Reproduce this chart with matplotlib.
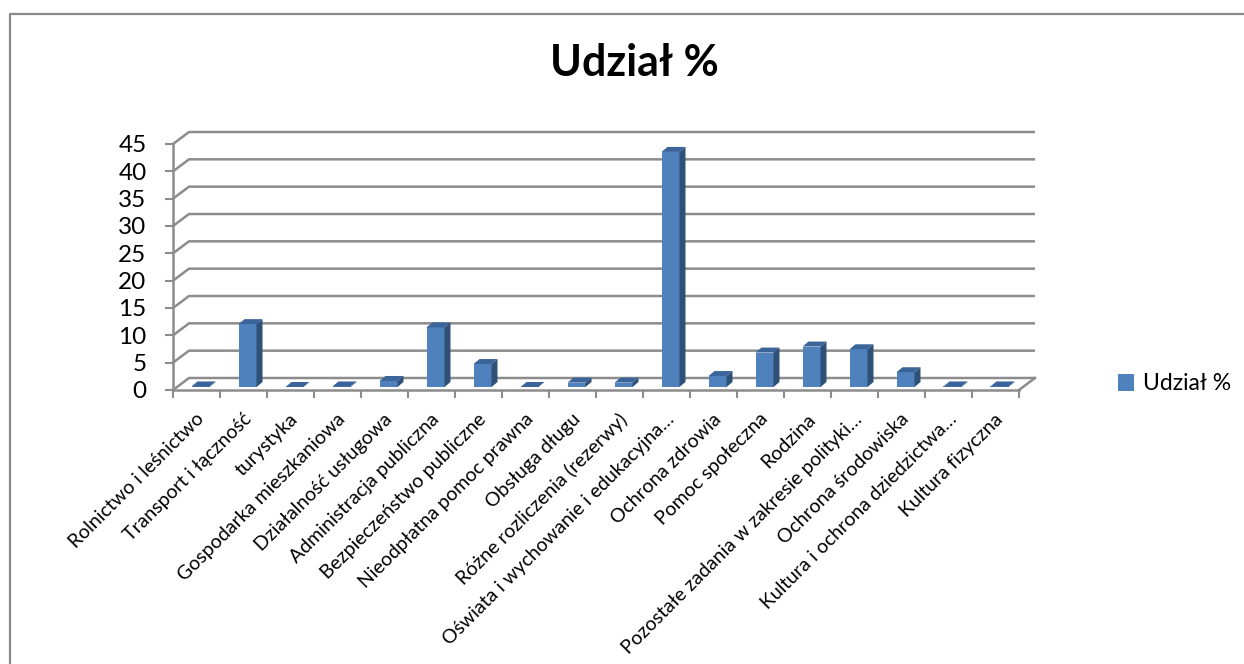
import matplotlib
matplotlib.use("Agg")
import matplotlib.pyplot as plt
from matplotlib.patches import Polygon
from matplotlib.lines import Line2D
from matplotlib.transforms import ScaledTranslation
import numpy as np

categories = [
    "Rolnictwo i leśnictwo", "Transport i łączność", "turystyka",
    "Gospodarka mieszkaniowa", "Działalność usługowa", "Administracja publiczna",
    "Bezpieczeństwo publiczne", "Nieodpłatna pomoc prawna", "Obsługa długu",
    "Różne rozliczenia (rezerwy)", "Oświata i wychowanie i edukacyjna…",
    "Ochrona zdrowia", "Pomoc społeczna", "Rodzina",
    "Pozostałe zadania w zakresie polityki…", "Ochrona środowiska",
    "Kultura i ochrona dziedzictwa…", "Kultura fizyczna",
]
values = [0.1, 11.5, 0.0, 0.1, 1.1, 10.9, 4.2, 0.0, 0.8, 0.8, 43.0,
          2.0, 6.3, 7.4, 6.9, 2.7, 0.1, 0.1]
series_name = "Udział %"
yticks = list(range(0, 50, 5))

plt.rcParams['font.family'] = ['Lato', 'DejaVu Sans']

W, H, DPI = 1244, 664, 100
fig = plt.figure(figsize=(W / DPI, H / DPI), dpi=DPI)

# front plot box in pixels (from top-left)
x_left, x_right = 173, 1019
y_zero, y_top = 390, 144
ymax = 45
n = len(categories)
ax = fig.add_axes([x_left / W, 1 - y_zero / H,
                   (x_right - x_left) / W, (y_zero - y_top) / H])
ax.set_xlim(0, n)
ax.set_ylim(0, ymax)

px_x = (x_right - x_left) / n
px_y = (y_zero - y_top) / ymax


def off(px, py):
    # pixel offset -> data offset
    return px / px_x, py / px_y


grid = '#8c8c8c'
front = '#4f81bd'
top_c = '#3b659a'
side_c = '#2f5077'

# back wall gridlines with depth connectors
gx, gy = off(16, 12)
for v in yticks:
    ax.plot([0, gx, n + gx], [v, v + gy, v + gy], color=grid, lw=1.8,
            clip_on=False, zorder=1, solid_capstyle='butt')
# right floor edge
ax.plot([n, n + gx], [0, gy], color=grid, lw=1.8, clip_on=False, zorder=1)

# bars (pseudo 3D)
bw = 18 / px_x
fx, fy = off(4, 3)
dx, dy = off(6, 5)
centers = np.arange(n) + 0.5 + fx
bars = ax.bar(centers, values, width=bw, bottom=fy, color=front, zorder=3,
              linewidth=0)
for c, v in zip(centers, values):
    x0, x1 = c - bw / 2, c + bw / 2
    b, t = fy, fy + v
    ax.add_patch(Polygon([(x0, t), (x1, t), (x1 + dx, t + dy), (x0 + dx, t + dy)],
                         closed=True, facecolor=top_c, edgecolor='none',
                         zorder=4, clip_on=False))
    ax.add_patch(Polygon([(x1, b), (x1, t), (x1 + dx, t + dy), (x1 + dx, b + dy)],
                         closed=True, facecolor=side_c, edgecolor='none',
                         zorder=4, clip_on=False))

# axes styling
for s in ['top', 'right']:
    ax.spines[s].set_visible(False)
for s in ['left', 'bottom']:
    ax.spines[s].set_color(grid)
    ax.spines[s].set_linewidth(1.8)
ax.set_yticks(yticks)
ax.tick_params(axis='y', colors=grid, length=6, width=1.5, labelsize=17.5,
               labelcolor='black', pad=13)
ax.set_xticks(np.arange(n + 1))
ax.set_xticklabels([])
ax.tick_params(axis='x', which='major', colors=grid, length=6, width=1.5)
ax.set_xticks(np.arange(n) + 0.5, minor=True)
ax.set_xticklabels(categories, minor=True, rotation=45, ha='right',
                   va='center', rotation_mode='anchor', fontsize=14)
ax.tick_params(axis='x', which='minor', length=0, pad=19)
shift = ScaledTranslation(5 / DPI, 0, fig.dpi_scale_trans)
for lab in ax.get_xticklabels(minor=True):
    lab.set_transform(lab.get_transform() + shift)

# legend
ax.legend([bars], [series_name], loc='center left',
          bbox_to_anchor=(1097 / W, 1 - 384 / H), bbox_transform=fig.transFigure,
          frameon=False, fontsize=16.5, handlelength=0.7, handleheight=0.7,
          handletextpad=0.4)

# title
fig.text(634 / W, 1 - 63 / H, series_name, ha='center', va='center',
         fontsize=31, fontweight='bold')

# chart border
fig.add_artist(Line2D([9.5 / W, 9.5 / W, 1], [0, 1 - 13.5 / H, 1 - 13.5 / H],
                      transform=fig.transFigure, color='#8a8a8a', lw=1.6))

fig.savefig('out.png', dpi=DPI)
